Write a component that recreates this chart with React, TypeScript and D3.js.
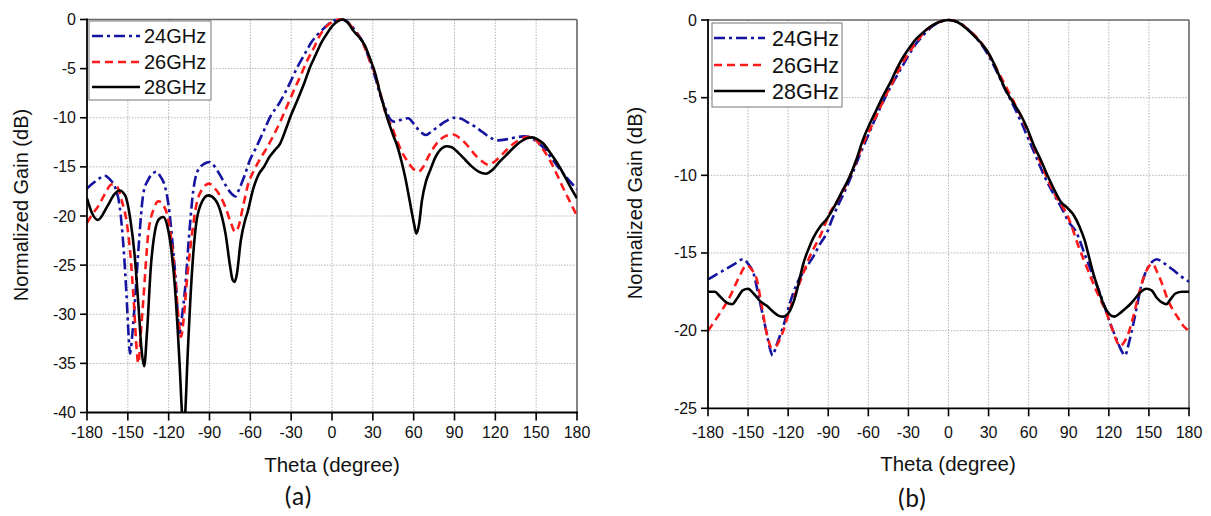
import React from "react";
import * as d3 from "d3";

// ---------- Data ----------
const xTicks = [-180, -150, -120, -90, -60, -30, 0, 30, 60, 90, 120, 150, 180];
const yTicksA = [0, -5, -10, -15, -20, -25, -30, -35, -40];
const yTicksB = [0, -5, -10, -15, -20, -25];
const seriesNames = ["24GHz", "26GHz", "28GHz"];

// Panel (a)
const a24Theta = [-180, -175, -170, -167, -163, -159, -156, -153, -151, -149.5, -148.4, -147, -144.7, -142, -138.6, -135, -131, -129, -126, -122.7, -120, -117, -115, -112, -110, -108, -105, -102, -99, -94, -90, -86, -82, -78, -74, -71, -68, -64, -60, -57, -53, -50, -45, -40, -35, -30, -26, -20, -15, -11, -6, -2, 2, 6, 10, 14, 18, 23, 28, 32, 35, 39, 43, 46, 51, 56, 60, 64, 69, 74, 78, 83, 90, 95, 100, 105, 110, 116, 122, 128, 135, 141, 146, 150, 155, 160, 165, 170, 175, 180];
const a24Gain = [-17.2, -16.6, -16.1, -15.9, -16.3, -17.2, -19, -23.5, -28, -32, -34.0, -32.5, -28.5, -23, -17.7, -16.3, -15.6, -15.5, -16.0, -17.0, -19, -23, -26.2, -31.9, -30, -27.5, -22, -17.5, -15.5, -14.7, -14.5, -15.0, -15.9, -16.9, -17.7, -18.0, -17.2, -15.8, -14.2, -13.4, -12.2, -11.3, -9.8, -8.8, -7.6, -6.2, -5.0, -3.5, -2.3, -1.6, -0.9, -0.4, -0.1, 0, -0.1, -0.6, -1.3, -2.4, -4.3, -6.0, -7.5, -9.0, -10.2, -10.4, -10.2, -10.05, -10.6, -11.3, -11.75, -11.3, -10.9, -10.4, -10.0, -10.1, -10.5, -10.9, -11.4, -12.0, -12.3, -12.2, -12.0, -11.9, -12.0, -12.4, -13.0, -13.9, -14.8, -15.7, -16.5, -17.3];

const a26Theta = [-180, -176, -171.7, -167, -162, -158, -154.5, -151, -148.4, -145.5, -143.5, -142.3, -140.5, -138.6, -135, -131, -127.6, -124, -121.4, -118, -115.3, -113, -111, -109, -106.8, -103, -99.4, -95, -90.4, -86, -82, -78.6, -74, -71.3, -69, -65, -61.5, -57.8, -52, -48, -43, -38, -33, -28, -23, -18.6, -13, -8.8, -4, 1, 5, 9, 13, 17, 22, 27, 31, 35, 40, 43.8, 48, 51, 54.9, 59, 63.4, 67, 71, 77, 83, 89, 95, 100, 104, 110, 115, 120, 126, 131, 137, 142, 146, 150, 155, 160, 165, 170, 175, 180];
const a26Gain = [-20.7, -19.8, -19.0, -17.8, -16.8, -17.0, -18.4, -20.5, -23.5, -29, -33.6, -35.0, -32, -28.5, -21.8, -19.3, -18.5, -18.9, -19.7, -22.5, -26.2, -30.0, -32.3, -30.5, -26.9, -22, -18.7, -17.2, -16.7, -17.2, -18.0, -19.0, -20.8, -21.6, -21.2, -18.8, -16.7, -15.5, -14.0, -13.1, -11.8, -10.4, -8.8, -7.2, -5.7, -4.3, -2.8, -1.6, -0.7, -0.2, 0, 0, -0.5, -1.2, -2.2, -3.9, -5.3, -7.2, -9.8, -10.9, -12.4, -13.4, -14.3, -15.1, -15.5, -15.0, -13.9, -12.6, -11.9, -11.7, -12.2, -12.9, -13.6, -14.4, -14.8, -14.4, -13.6, -12.9, -12.3, -12.0, -11.95, -12.3, -13.2, -14.3, -15.7, -17.2, -18.6, -20.0];

const a28Theta = [-180, -176, -172, -165, -160, -156, -152, -148, -145, -142, -140, -138, -136, -133, -130, -127, -124, -121, -118, -115, -112, -110, -109, -108, -106, -103, -100, -96, -91, -86, -82, -78, -75, -73, -71.5, -70, -67, -64, -62, -58, -54, -50, -46, -42, -38, -34, -30, -26, -21, -16, -12, -8, -4, 0, 4, 8, 12, 16, 20, 24, 28, 32, 35, 38, 41, 45, 48, 51, 54, 57, 60, 62, 64, 66, 69, 72, 76, 80, 84, 88, 93, 98, 103, 108, 113, 118, 123, 128, 133, 138, 143, 147, 151, 155, 160, 165, 170, 175, 180];
const a28Gain = [-18.2, -19.8, -20.4, -19.0, -17.8, -17.4, -17.9, -20.5, -24, -29.5, -33.5, -35.3, -32, -25, -21.5, -20.3, -20.1, -21, -23.5, -28, -35, -40.5, -42, -40.5, -34, -26, -21, -18.7, -17.9, -18.3, -19.5, -22, -25, -26.5, -26.7, -26, -22.5, -20.5, -19.6, -17.3, -15.8, -15.0, -14.0, -13.3, -12.6, -11.2, -9.7, -8.4, -6.7, -4.8, -3.6, -2.4, -1.5, -0.7, -0.2, 0, -0.4, -1.2, -1.8, -2.6, -4.0, -5.6, -7.3, -8.8, -10.2, -11.8, -12.9, -14.4, -16.2, -18.4, -20.6, -21.8, -20.8, -18.5, -16.5, -15.4, -14.0, -13.2, -12.9, -13.0, -13.6, -14.3, -15.0, -15.5, -15.7, -15.3, -14.5, -13.8, -13.1, -12.5, -12.1, -12.0, -12.2, -12.6, -13.5, -14.5, -15.7, -17.0, -18.2];

// Panel (b)
const b24Theta = [-180, -170, -160, -153.6, -150, -146, -142, -139, -136, -133.5, -131.6, -129, -126, -123.6, -119, -113.6, -107, -101, -96, -91, -87, -83, -78, -72, -66, -60, -54, -48, -42, -36, -30, -24, -18, -12, -6, 0, 6, 12, 18, 24, 30, 36, 42, 48, 54, 60, 66, 72, 78, 84, 90, 95.9, 102, 108.4, 115, 120.9, 126, 129.5, 132.1, 135, 138, 140.9, 144, 148.3, 152, 155.8, 162, 168.3, 174, 180];
const b24Gain = [-16.7, -16.2, -15.7, -15.4, -15.7, -16.3, -17.8, -19.0, -20.2, -21.2, -21.6, -21.0, -20.3, -19.7, -18.3, -17.0, -16.0, -15.2, -14.4, -13.7, -12.8, -12.0, -11.1, -9.9, -8.6, -7.4, -6.2, -5.1, -4.1, -3.2, -2.3, -1.5, -0.9, -0.4, -0.1, 0, -0.1, -0.4, -0.9, -1.5, -2.3, -3.3, -4.4, -5.4, -6.5, -7.7, -8.9, -10.1, -11.1, -12.0, -13.0, -13.7, -15.1, -16.5, -18.0, -19.5, -20.6, -21.3, -21.6, -20.8, -19.7, -18.5, -17.2, -16.1, -15.6, -15.4, -15.7, -16.1, -16.5, -16.85];

const b26Theta = [-180, -172, -163.5, -157, -151, -147, -143.5, -140, -136, -132.3, -129, -126, -123.6, -120, -116.2, -110, -103.7, -96, -88.7, -82, -76, -70, -64, -58, -52, -46, -40, -34, -28, -22, -16, -10, -4, 0, 4, 10, 16, 22, 28, 34, 40, 46, 52, 58, 64, 70, 76, 82, 88, 91, 97, 103.4, 110, 118.4, 123, 126, 128.4, 131, 134.5, 138.3, 142, 146, 149, 152.8, 156, 160.8, 164, 168.3, 172, 175.8, 180];
const b26Gain = [-20.0, -19.0, -17.8, -16.6, -15.8, -16.1, -16.7, -18.3, -20.2, -21.1, -21.0, -20.5, -20.0, -19.0, -18.0, -16.6, -15.2, -13.9, -12.4, -11.5, -10.5, -9.3, -8.0, -6.9, -5.8, -4.7, -3.7, -2.7, -1.9, -1.2, -0.6, -0.25, -0.05, 0, -0.05, -0.3, -0.7, -1.2, -1.9, -2.8, -3.8, -4.8, -5.8, -6.9, -8.2, -9.4, -10.6, -11.6, -12.4, -13.0, -14.5, -15.9, -17.3, -18.9, -20.0, -20.7, -21.0, -20.8, -20.2, -19.1, -17.8, -16.6, -16.0, -15.7, -16.2, -17.2, -18.0, -18.7, -19.2, -19.7, -20.0];

const b28Theta = [-180, -175, -171, -166, -162, -158, -154, -150, -146, -141, -136, -131, -127, -123.6, -120, -117, -114, -111, -108, -105, -101, -96, -91, -86, -80, -74, -69, -64, -59, -54, -49, -44, -39, -34, -29, -24, -19, -14, -9, -4, 0, 4, 9, 14, 19, 24, 29, 34, 39, 44, 49, 54, 59, 64, 69, 74, 79, 84, 89, 94, 98, 102, 105, 108, 112, 116, 120, 124, 128, 132, 136, 140, 144, 148, 152, 156, 160, 163, 166, 170, 175, 180];
const b28Gain = [-17.5, -17.5, -17.8, -18.2, -18.3, -17.9, -17.4, -17.3, -17.6, -18.1, -18.4, -18.8, -19.05, -19.1, -18.9, -18.4, -17.6, -16.5, -15.5, -14.8, -14.0, -13.3, -12.8, -12.1, -11.1, -10.1, -9.0, -7.7, -6.7, -5.8, -4.9, -4.1, -3.2, -2.4, -1.75, -1.2, -0.8, -0.45, -0.2, -0.05, 0, -0.05, -0.25, -0.6, -1.0, -1.45, -2.0, -2.8, -3.8, -4.7, -5.4, -6.1, -7.0, -8.1, -9.0, -10.0, -10.9, -11.7, -12.1, -12.6, -13.3, -14.2, -15.2, -16.2, -17.3, -18.3, -18.9, -19.1, -18.9, -18.6, -18.3, -17.9, -17.5, -17.3, -17.4, -17.9, -18.2, -18.3, -18.0, -17.6, -17.5, -17.5];

// ---------- Styles ----------
const colors = ["#1414a0", "#ff1a1a", "#000000"];
const dashes = ["11,4,3,4", "8,5", "none"];
const FONT = "'Liberation Sans', Arial, sans-serif";

type PanelProps = {
  id: string;
  x0: number; x1: number; y0: number; y1: number;
  yMin: number; yTicks: number[];
  series: { theta: number[]; gain: number[] }[];
  legend: { x: number; y: number; w: number; h: number; rows: number[]; lx0: number; lx1: number; tx: number; fs: number };
  yTitle: { x: number; y: number };
  xTitle: { x: number; y: number };
  label: string; labelPos: { x: number; y: number };
};

function Panel(p: PanelProps) {
  const x = d3.scaleLinear().domain([-180, 180]).range([p.x0, p.x1]);
  const y = d3.scaleLinear().domain([p.yMin, 0]).range([p.y1, p.y0]);
  const line = d3.line<[number, number]>().x(d => x(d[0])).y(d => y(d[1])).curve(d3.curveMonotoneX);
  const clipId = "clip-" + p.id;
  return (
    <g>
      <defs>
        <clipPath id={clipId}>
          <rect x={p.x0} y={p.y0 - 2} width={p.x1 - p.x0} height={p.y1 - p.y0 + 2} />
        </clipPath>
      </defs>
      {xTicks.filter(t => t !== -180 && t !== 180).map(t => (
        <line key={"gx" + t} x1={x(t)} x2={x(t)} y1={p.y0} y2={p.y1} stroke="#b4b4b4" strokeWidth={1} strokeDasharray="1.5,1.5" />
      ))}
      {p.yTicks.filter(t => t !== 0 && t !== p.yMin).map(t => (
        <line key={"gy" + t} x1={p.x0} x2={p.x1} y1={y(t)} y2={y(t)} stroke="#b4b4b4" strokeWidth={1} strokeDasharray="1.5,1.5" />
      ))}
      <line x1={p.x0} x2={p.x1} y1={p.y0} y2={p.y0} stroke="#666" strokeWidth={1.6} />
      <line x1={p.x1} x2={p.x1} y1={p.y0} y2={p.y1} stroke="#666" strokeWidth={1.6} />
      <g clipPath={`url(#${clipId})`}>
        {p.series.map((s, i) => (
          <path key={i} d={line(s.theta.map((t, k) => [t, s.gain[k]] as [number, number])) || ""}
            fill="none" stroke={colors[i]} strokeWidth={2.6} strokeDasharray={dashes[i]} strokeLinejoin="round" />
        ))}
      </g>
      <line x1={p.x0} x2={p.x1 + 1} y1={p.y1} y2={p.y1} stroke="#000" strokeWidth={1.8} />
      <line x1={p.x0} x2={p.x0} y1={p.y0 - 1} y2={p.y1} stroke="#000" strokeWidth={1.8} />
      {xTicks.map(t => (
        <g key={"xt" + t}>
          <line x1={x(t)} x2={x(t)} y1={p.y1} y2={p.y1 + 8} stroke="#000" strokeWidth={1.6} />
          <text x={x(t)} y={437.5} textAnchor="middle" fontFamily={FONT} fontSize={16} fill="#111">{t}</text>
        </g>
      ))}
      {p.yTicks.map(t => (
        <g key={"yt" + t}>
          <line x1={p.x0 - 7} x2={p.x0} y1={y(t)} y2={y(t)} stroke="#000" strokeWidth={1.6} />
          <text x={p.x0 - 11} y={y(t) + 5.5} textAnchor="end" fontFamily={FONT} fontSize={16} fill="#111">{t}</text>
        </g>
      ))}
      <rect x={p.legend.x} y={p.legend.y} width={p.legend.w} height={p.legend.h} fill="#fff" stroke="#777" strokeWidth={1} />
      {seriesNames.map((n, i) => (
        <g key={n}>
          <line x1={p.legend.lx0} x2={p.legend.lx1} y1={p.legend.rows[i]} y2={p.legend.rows[i]} stroke={colors[i]} strokeWidth={2.6} strokeDasharray={dashes[i]} />
          <text x={p.legend.tx} y={p.legend.rows[i] + p.legend.fs * 0.36} fontFamily={FONT} fontSize={p.legend.fs} fill="#111">{n}</text>
        </g>
      ))}
      <text transform={`translate(${p.yTitle.x},${p.yTitle.y}) rotate(-90)`} textAnchor="middle" fontFamily={FONT} fontSize={20} fill="#111">Normalized Gain (dB)</text>
      <text x={p.xTitle.x} y={p.xTitle.y} textAnchor="middle" fontFamily={FONT} fontSize={20.5} fill="#111">Theta (degree)</text>
      <text x={p.labelPos.x} y={p.labelPos.y} textAnchor="middle" fontFamily="Carlito, Lato, 'Open Sans', sans-serif" fontSize={26} fill="#111">{p.label}</text>
    </g>
  );
}

export default function App() {
  return (
    <div style={{ position: "absolute", left: 0, top: 0 }}>
      <svg width={1211} height={516} style={{ display: "block", background: "#fff" }}>
        <Panel id="a" x0={87} x1={577} y0={19.5} y1={412.5} yMin={-40} yTicks={yTicksA}
          series={[{ theta: a24Theta, gain: a24Gain }, { theta: a26Theta, gain: a26Gain }, { theta: a28Theta, gain: a28Gain }]}
          legend={{ x: 89, y: 21, w: 122, h: 79, rows: [36, 62, 87], lx0: 92, lx1: 140, tx: 144, fs: 20 }}
          yTitle={{ x: 28, y: 205 }} xTitle={{ x: 332, y: 472 }} label="(a)" labelPos={{ x: 298, y: 505 }} />
        <Panel id="b" x0={708} x1={1189} y0={20} y1={408.3} yMin={-25} yTicks={yTicksB}
          series={[{ theta: b24Theta, gain: b24Gain }, { theta: b26Theta, gain: b26Gain }, { theta: b28Theta, gain: b28Gain }]}
          legend={{ x: 712, y: 23, w: 130, h: 84, rows: [38, 65, 91], lx0: 714, lx1: 765, tx: 772, fs: 21.5 }}
          yTitle={{ x: 642, y: 203 }} xTitle={{ x: 948, y: 471 }} label="(b)" labelPos={{ x: 912, y: 507 }} />
      </svg>
    </div>
  );
}
